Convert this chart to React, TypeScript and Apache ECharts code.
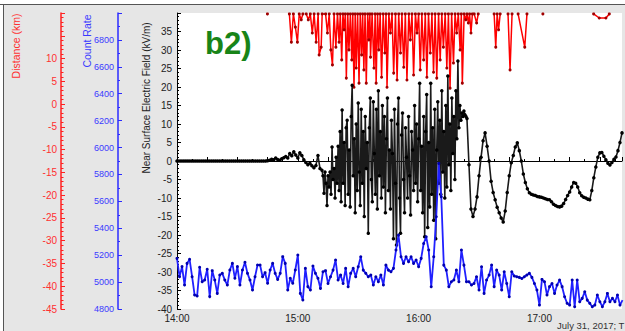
import React, { useEffect, useRef } from 'react';
import * as echarts from 'echarts';

// x axis is minutes after 14:00 (UTC)
const hourLabels = ['14:00', '15:00', '16:00', '17:00'];

// Near surface electric field (kV/m)
// quiet part: one value per minute from 14:00 (t = 0 .. 71)
const efQuiet = [
  0, 0, 0, 0, 0, 0, 0, 0, 0, 0,
  0, 0, 0, 0, 0, 0, 0, 0, 0, 0,
  0, 0, 0, 0, 0, 0, 0, 0, 0, 0,
  0, 0, 0, 0, 0, 0, 0, 0, 0, 0,
  0, 0, 0, 0, 0,
  0.1, 0.2, 0.5, 0.3, 0.8, 0.4, 0.2, 0.6, 0.9, 1.2,
  0.8, 2.0, 1.4, 2.5, 1.6, 0.8, 2.2, 1.5, 0.3, -0.4,
  -1.0, -0.6, -1.3, -1.8, -1.2, 1.5, -2.0,
];
// active part: one value per half minute (t = 72 .. 144)
const efActive = [
  -2.5, -4, -8.7, -3, -6, -12, -4, -7, -3, -9,
  3.8, -5, -2, -10, 1, -6, 4, -8, 8, -11,
  13.8, -6, 5, -12, 9, 11, -9, 3, -12.4, 12,
  20.5, -4, 6, -14, 10, -8, 15.7, -3, -12, 14,
  -6, 8, -15, 12, -2, 5, -19.5, 9, 17, -5,
  -11, 16, 2, -9, 14, -13, 19, -4, 8, -10,
  15, -7, 12, -14, 6, 17, -8, 3, -13, 11,
  2, -21, 14, -6, -22.7, 10, 17, -10, -19.5, 7,
  13, -5, -14, 9, 1, -10, 12, -4, -14.6, 8,
  3, -8, 15, -6, 10, -11, 6, 21, -8, 4,
  -14, 12, -20.5, 8, 18, -18, 5, -12.4, 21, -9,
  9, -16, 14, -21, 3, 16, -6, 11, -9, 19,
  -3, 8, -10, 15, -7, 23, -1, 10, -8, 17,
  2, 12, -5, 19, 6, 27, 9, 15, 11, 13,
  12, 13.5, 12.5, 12, 11.5,
];
// tail: one value per minute (t = 145 .. 221)
const efTail = [
  -1, -13, -15, -13, -9.7, -4, 1, 5.5, 7.6, 4,
  0, -5.5, -8.5, -10.5, -12.5, -14, -15.4, -16.5, -13.5, -8.5,
  -4, -0.5, 1.5, 3.8, 4.9, 2.8, 0, -3.5, -5.8, -7.5,
  -8.6, -9, -9.2, -9.3, -9.6, -9.7, -9.8, -10, -10.2, -10.4,
  -10.5, -11, -11.7, -12, -12.3, -12.4, -12.2, -11.5, -10.4, -9.3,
  -8.4, -7, -5.8, -6, -7, -8.6, -9.4, -9.8, -10, -10.3,
  -10.5, -8, -4.5, -1.6, 1, 2.2, 2.3, 1.3, 0.3, -0.6,
  -1.1, -0.4, 0.5, 1.1, 2.8, 5, 7.6,
];

// Count rate, one value every 1.25 minutes from 14:00
const countRate = [
  5176, 5040, 5115, 4978, 5139, 5169, 5040, 4904, 4897, 5110,
  5003, 5015, 5095, 4892, 5085, 5015, 4916, 5053, 5065, 5015,
  4978, 5090, 5139, 5028, 5115, 4978, 5090, 5147, 5065, 5015,
  4941, 5040, 5127, 5127, 5040, 5070, 4991, 5090, 5139, 5065,
  5020, 5065, 5189, 5139, 4941, 5028, 4991, 5090, 5201, 4916,
  4867, 5102, 4966, 4941, 5120, 5065, 5028, 4953, 5077, 5085,
  4990, 5040, 5089, 5164, 5015, 5052, 4990, 5102, 4965, 5065,
  5102, 5040, 5114, 5188, 5089, 5065, 5040, 5052, 4978, 5040,
  5003, 5052, 4978, 5126, 5089, 5077, 5102, 5238, 5349, 5188,
  5139, 5188, 5151, 5188, 5139, 5164, 5114, 5176, 5287, 5337,
  5238, 4965, 5188, 5486, 5882, 5634, 5126, 5089, 4965, 5003,
  5015, 5089, 5003, 5238, 5126, 5003,
  5003, 4978, 4990, 5040, 4941, 5114, 4916, 5015, 5052, 5127,
  4966, 5089, 5052, 4941, 5077, 4990, 4891, 5077, 5045, 5040,
  5035, 5027, 5040, 5052, 5065, 5035, 4990, 4941, 4829, 5020,
  5003, 4904, 4966, 4990, 4916, 4978, 5015, 4966, 4891, 4842,
  4829, 5015, 4817, 5015, 4854, 4879, 4928, 4866, 4842, 4817,
  4829, 4904, 4854, 4817, 4854, 4916, 4854, 4879, 4854, 4904,
  4829, 4866,
];

// Lightning distance (km); null breaks the line
const redTime = [
  44.9, 45.5,
  55.8, 56.8, 57.8, 58.8, 59.8, 60.7, 61.7, 62.5, 63.3,
  64.2, 65.2, 66.2, 67.2, 68.1, 69.1, 70.1, 70.6, 71.6, 72.1,
  73.8, 74.7, 75.6, 76.4, 77.2, 78.0, 78.9, 79.7, 80.5, 81.1,
  81.8, 82.4, 83.0, 83.6, 84.1, 84.8, 85.4, 86.1, 86.8, 87.3,
  87.9, 88.5, 89.0, 89.7, 90.4, 91.0, 91.7, 92.2, 92.8, 93.4,
  94.0, 94.7, 95.3, 95.8, 96.1, 96.9, 97.8, 98.4, 98.9, 99.6,
  100.2, 100.9, 101.6, 102.4, 103.2, 103.8, 104.3, 105.2, 106.0, 106.8,
  107.6, 108.5, 109.3, 110.1, 111.0, 111.7, 112.6, 113.4, 114.2, 115.1,
  115.9, 116.7, 117.5, 118.4, 119.2, 120.0, 120.8, 121.6, 122.5, 123.3,
  124.1, 124.9, 125.8, 126.6, 127.4, 128.2, 129.0, 129.9, 130.7, 131.5,
  132.3, 133.2, 134.0, 134.8, 135.6, 136.4, 137.3, 138.1, 138.9, 139.7,
  140.6, 141.2, 141.7, 142.6, 143.4, 144.0, 144.7, 145.3, 146.0, 146.7,
  147.1,
  147.6, 148.8, 149.6, 150.0,
  157.5, 158.3, 159.0, 159.7, 160.5, 161.0,
  164.4, 165.4, 166.4, 167.0,
  169.4, 172.7, 173.8, 174.2,
  181.7, 182.0,
  206.9, 209.7, 213.0, 214.7,
];
const redDist = [
  19.8, null,
  19.8, 13.6, 19.8, 16.9, 13.6, 19.8, 18.5, 19.8, null,
  19.8, 18.5, 19.8, 15.6, 19.8, 13.6, 19.8, 10.8, 12.5, 19.8,
  19.8, 15.6, 19.8, 11.9, 8.6, 19.8, 12.5, 19.8, 13.6, 19.8,
  9.7, 19.8, 16.3, 19.8, 5.7, 19.8, 11.9, 19.8, 9.7, 19.8,
  3.7, 19.8, 7.9, 19.8, 4.6, 19.8, 10.8, 19.8, 7.5, 19.8,
  4.6, 19.8, 14.1, 19.8, 10.3, 19.8, 7.9, 19.8, 4.6, 19.8,
  11.9, 19.8, 5.9, 19.8, 11.2, 19.8, 3.7, 19.8, 15.6, 19.8,
  6.8, 19.8, 5.3, 19.8, 11.2, 19.8, 8.1, 19.8, 5.3, 19.8,
  14.1, 19.8, 6.4, 19.8, 15.6, 19.8, 7.5, 19.8, 9.7, 19.8,
  5.9, 19.8, 11.2, 19.8, 7.0, 19.8, 5.7, 19.8, 9.7, 19.8,
  12.5, 19.8, 7.9, 19.8, 3.5, 19.8, 9.0, 19.8, 15.6, 19.8,
  11.9, 19.8, 4.6, 19.8, 18.5, 19.8, 17.8, 19.8, 15.6, 19.8,
  null,
  19.8, 17.8, 19.8, null,
  19.8, 12.5, 19.8, 16.3, 19.8, null,
  19.8, 7.5, 19.8, null,
  19.8, 12.5, 19.8, null,
  19.8, null,
  19.8, 18.9, 18.9, 19.8,
];

const FONT = 'Liberation Sans, Arial, sans-serif';

export default function App() {
  const ref = useRef<HTMLDivElement>(null);

  useEffect(() => {
    if (!ref.current) return;
    const chart = echarts.init(ref.current, null, { renderer: 'svg' });

    const ef = [
      ...efQuiet.map((v, i) => [i, v]),
      ...efActive.map((v, i) => [72 + i * 0.5, v]),
      ...efTail.map((v, i) => [145 + i, v]),
    ];
    const blue = countRate.map((v, i) => [i * 1.25, v]);
    const red = redTime.map((t, i) => [t, redDist[i] === null ? '-' : redDist[i]]);

    const option: any = {
      animation: false,
      backgroundColor: '#e6e6e6',
      grid: {
        left: 177,
        top: 13,
        right: 0,
        bottom: 22,
        show: true,
        backgroundColor: '#ffffff',
        borderWidth: 0,
      },
      xAxis: {
        type: 'value',
        min: 0,
        max: 221,
        interval: 15,
        axisLine: { lineStyle: { color: '#000', width: 1 } },
        axisTick: { inside: true, length: 4, lineStyle: { color: '#000' } },
        minorTick: { show: true, splitNumber: 2, length: 2, lineStyle: { color: '#000' } },
        splitLine: { show: false },
        axisLabel: {
          color: '#222',
          fontSize: 10,
          fontFamily: FONT,
          margin: 4,
          formatter: (v: number) => (v % 60 === 0 ? hourLabels[v / 60] ?? '' : ''),
        },
      },
      yAxis: [
        {
          type: 'value',
          position: 'left',
          min: -40,
          max: 40,
          interval: 5,
          axisLine: { show: true, lineStyle: { color: '#000', width: 1 } },
          axisTick: { show: true, inside: true, length: 4, lineStyle: { color: '#000' } },
          minorTick: { show: true, splitNumber: 5, length: 2, lineStyle: { color: '#000' } },
          splitLine: { show: false },
          axisLabel: {
            color: '#222',
            fontSize: 10,
            fontFamily: FONT,
            margin: 5,
            formatter: (v: number) => (v === 40 ? '' : String(v)),
          },
        },
        {
          type: 'value',
          position: 'left',
          offset: 59,
          min: 4800,
          max: 7000,
          interval: 200,
          axisLine: { show: true, lineStyle: { color: '#2b2bff', width: 1.5 } },
          axisTick: { show: true, inside: true, length: 4, lineStyle: { color: '#2b2bff' } },
          minorTick: { show: true, splitNumber: 2, length: 2, lineStyle: { color: '#2b2bff' } },
          splitLine: { show: false },
          axisLabel: {
            color: '#3a3aff',
            fontSize: 9,
            fontFamily: FONT,
            margin: 4,
            formatter: (v: number) => (v === 7000 ? '' : String(v)),
          },
        },
        {
          type: 'value',
          position: 'left',
          offset: 116,
          min: -45,
          max: 20,
          interval: 5,
          axisLine: { show: true, lineStyle: { color: '#ff2020', width: 1.5 } },
          axisTick: { show: true, inside: true, length: 4, lineStyle: { color: '#ff2020' } },
          minorTick: { show: true, splitNumber: 5, length: 2.5, lineStyle: { color: '#ff2020' } },
          splitLine: { show: false },
          axisLabel: {
            color: '#ff3030',
            fontSize: 10,
            fontFamily: FONT,
            margin: 4,
            formatter: (v: number) => (v >= 15 ? '' : String(v)),
          },
        },
      ],
      series: [
        {
          type: 'line',
          name: 'Distance',
          yAxisIndex: 2,
          data: red,
          connectNulls: false,
          symbol: 'circle',
          symbolSize: 3,
          itemStyle: { color: '#a00000' },
          lineStyle: { color: '#ff0000', width: 1.5 },
          z: 2,
        },
        {
          type: 'line',
          name: 'Electric Field',
          yAxisIndex: 0,
          data: ef,
          symbol: 'circle',
          symbolSize: 3.5,
          itemStyle: { color: '#000' },
          lineStyle: { color: '#1a1a1a', width: 1.6 },
          z: 3,
        },
        {
          type: 'line',
          name: 'Count Rate',
          yAxisIndex: 1,
          data: blue,
          symbol: 'circle',
          symbolSize: 3,
          itemStyle: { color: '#0000b0' },
          lineStyle: { color: '#2020ff', width: 1.8 },
          z: 4,
        },
      ],
      graphic: [
        { type: 'rect', shape: { x: 0, y: 0, width: 625, height: 4 }, style: { fill: '#ffffff' }, silent: true },
        { type: 'rect', shape: { x: 0, y: 0, width: 3, height: 331 }, style: { fill: '#ffffff' }, silent: true },
        { type: 'line', shape: { x1: 0, y1: 4.5, x2: 625, y2: 4.5 }, style: { stroke: '#555', lineWidth: 1 }, silent: true },
        { type: 'line', shape: { x1: 3.5, y1: 4.5, x2: 3.5, y2: 331 }, style: { stroke: '#555', lineWidth: 1 }, silent: true },
        {
          type: 'text',
          x: 205,
          y: 28,
          style: { text: 'b2)', fill: '#188418', font: `bold 31px ${FONT}`, textVerticalAlign: 'top' },
          z: 10,
        },
        {
          type: 'text',
          x: 16,
          y: 46,
          rotation: Math.PI / 2,
          style: { text: 'Distance (km)', fill: '#ff3030', font: `10.5px ${FONT}`, textAlign: 'center', textVerticalAlign: 'middle' },
        },
        {
          type: 'text',
          x: 87,
          y: 41,
          rotation: Math.PI / 2,
          style: { text: 'Count Rate', fill: '#3a3aff', font: `10.5px ${FONT}`, textAlign: 'center', textVerticalAlign: 'middle' },
        },
        {
          type: 'text',
          x: 146,
          y: 98,
          rotation: Math.PI / 2,
          style: { text: 'Near Surface Electric Field (kV/m)', fill: '#222', font: `10px ${FONT}`, textAlign: 'center', textVerticalAlign: 'middle' },
        },
        {
          type: 'text',
          x: 557,
          y: 320,
          style: { text: 'July 31, 2017; T', fill: '#333', font: `9.5px ${FONT}`, textVerticalAlign: 'top' },
        },
      ],
    };

    chart.setOption(option);
    return () => chart.dispose();
  }, []);

  return (
    <div
      ref={ref}
      style={{ position: 'fixed', left: 0, top: 0, width: 625, height: 331 }}
    />
  );
}
